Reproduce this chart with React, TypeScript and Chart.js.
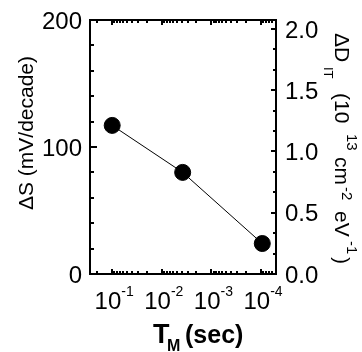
import React, { useEffect, useRef } from 'react';
import { Chart, registerables } from 'chart.js';

Chart.register(...registerables);

// ---- data ----
const tmSec = [0.1, 3.8e-3, 9.45e-5];
const deltaS = [117, 80, 24];

// ---- axes ----
const xMin = 5e-5;
const xMax = 0.28;
const xLabelExponents = [-1, -2, -3, -4];
const leftMin = 0;
const leftMax = 200;
const leftLabels = [0, 100, 200];
const leftMinorStep = 20;
const rightMin = 0;
const rightMax = 2.073;
const rightLabels = ['0.0', '0.5', '1.0', '1.5', '2.0'];
const rightMinorStep = 0.5 / 3;

const FONT = '"Liberation Sans", Arial, Helvetica, sans-serif';

function seg(ctx: CanvasRenderingContext2D, x1: number, y1: number, x2: number, y2: number) {
  ctx.beginPath();
  ctx.moveTo(x1, y1);
  ctx.lineTo(x2, y2);
  ctx.stroke();
}

const decorPlugin = {
  id: 'decor',
  afterDraw(chart: any) {
    const ctx: CanvasRenderingContext2D = chart.ctx;
    const { left, right, top, bottom } = chart.chartArea;
    const xs = chart.scales.x;
    const ys = chart.scales.y;
    const y2 = chart.scales.y2;
    ctx.save();
    ctx.strokeStyle = '#000';
    ctx.fillStyle = '#000';
    ctx.lineWidth = 2;
    ctx.strokeRect(left, top, right - left, bottom - top);

    // left ticks (inward)
    for (let v = leftMin; v <= leftMax + 1e-9; v += leftMinorStep) {
      const y = Math.round(ys.getPixelForValue(v));
      const len = v % 100 === 0 ? 7 : 4;
      seg(ctx, left, y, left + len, y);
    }
    // right ticks (inward)
    for (let k = 0; k * rightMinorStep <= rightMax + 1e-9; k++) {
      const v = k * rightMinorStep;
      const y = Math.round(y2.getPixelForValue(v));
      const len = k % 3 === 0 ? 5 : 3;
      seg(ctx, right, y, right - len, y);
    }
    // x log ticks, top and bottom (inward)
    for (let d = -6; d <= 1; d++) {
      for (let m = 1; m <= 9; m++) {
        const v = m * Math.pow(10, d);
        if (v < xMin || v > xMax) continue;
        const x = Math.round(xs.getPixelForValue(v));
        const len = m === 1 ? 5 : 3;
        seg(ctx, x, bottom, x, bottom - len);
        seg(ctx, x, top, x, top + len);
      }
    }

    // left tick labels
    ctx.textAlign = 'right';
    ctx.textBaseline = 'alphabetic';
    ctx.font = `24px ${FONT}`;
    leftLabels.forEach((v) => {
      const y = ys.getPixelForValue(v);
      ctx.fillText(String(v), 82, y + 0.358 * 24);
    });
    // right tick labels
    ctx.textAlign = 'left';
    rightLabels.forEach((t) => {
      const y = y2.getPixelForValue(parseFloat(t));
      ctx.fillText(t, 285, y + 0.358 * 24);
    });
    // x tick labels 10^n
    xLabelExponents.forEach((e) => {
      const px = xs.getPixelForValue(Math.pow(10, e));
      ctx.font = `24px ${FONT}`;
      const w1 = ctx.measureText('10').width;
      ctx.font = `14px ${FONT}`;
      const sup = String(e);
      const w2 = ctx.measureText(sup).width;
      const start = px - (w1 + w2) / 2 + 2;
      ctx.font = `24px ${FONT}`;
      ctx.fillText('10', start, 309);
      ctx.font = `14px ${FONT}`;
      ctx.fillText(sup, start + w1, 296);
    });

    // x title: T_M (sec)
    ctx.font = `bold 27px ${FONT}`;
    ctx.fillText('T', 153, 343);
    ctx.font = `bold 16px ${FONT}`;
    ctx.fillText('M', 167, 351);
    ctx.font = `bold 25px ${FONT}`;
    ctx.fillText('(sec)', 185, 343);

    // left title
    ctx.save();
    ctx.translate(33, 133);
    ctx.rotate(-Math.PI / 2);
    ctx.textAlign = 'center';
    ctx.font = `21px ${FONT}`;
    ctx.fillText('ΔS (mV/decade)', 0, 0);
    ctx.restore();

    // right title (rotated +90, reading downward)
    const parts: [string, number, number, number][] = [
      ['ΔD', 33, 335, 21],
      ['IT', 67, 324, 13],
      ['(10', 93, 335, 21],
      ['13', 134, 347, 15],
      ['cm', 157, 335, 21],
      ['-2', 187, 342, 15],
      ['eV', 211, 335, 21],
      ['-1', 241, 347, 15],
      [')', 257, 335, 21],
    ];
    ctx.textAlign = 'left';
    parts.forEach(([t, along, base, size]) => {
      ctx.save();
      ctx.translate(base, along);
      ctx.rotate(Math.PI / 2);
      ctx.font = `${size}px ${FONT}`;
      ctx.fillText(t, 0, 0);
      ctx.restore();
    });
    ctx.restore();
  },
};

export default function App() {
  const ref = useRef<HTMLCanvasElement | null>(null);
  useEffect(() => {
    if (!ref.current) return;
    const points = tmSec.map((x, i) => ({ x, y: deltaS[i] }));
    const chart = new Chart(ref.current, {
      type: 'line',
      data: {
        datasets: [
          {
            data: points,
            borderColor: '#000',
            borderWidth: 1,
            backgroundColor: '#000',
            pointBackgroundColor: '#000',
            pointBorderColor: '#000',
            pointRadius: 8,
            pointBorderWidth: 1,
            fill: false,
            tension: 0,
            xAxisID: 'x',
            yAxisID: 'y',
          },
        ],
      },
      options: {
        animation: false,
        responsive: false,
        maintainAspectRatio: false,
        devicePixelRatio: 1,
        layout: { padding: { top: 20, left: 0, right: 0, bottom: 0 } },
        plugins: { legend: { display: false }, tooltip: { enabled: false }, title: { display: false } },
        scales: {
          x: {
            type: 'logarithmic',
            reverse: true,
            min: xMin,
            max: xMax,
            position: 'bottom',
            grid: { display: false },
            border: { display: false },
            ticks: { display: false },
            afterFit: (s: any) => { s.height = 78; },
          },
          y: {
            type: 'linear',
            position: 'left',
            min: leftMin,
            max: leftMax,
            grid: { display: false },
            border: { display: false },
            ticks: { display: false },
            afterFit: (s: any) => { s.width = 90; },
          },
          y2: {
            type: 'linear',
            position: 'right',
            min: rightMin,
            max: rightMax,
            grid: { display: false },
            border: { display: false },
            ticks: { display: false },
            afterFit: (s: any) => { s.width = 86; },
          },
        },
      } as any,
      plugins: [decorPlugin],
    });
    return () => chart.destroy();
  }, []);
  return (
    <div style={{ position: 'absolute', left: 0, top: 0, width: 362, height: 352, background: '#fff' }}>
      <canvas ref={ref} width={362} height={352} style={{ display: 'block' }} />
    </div>
  );
}
